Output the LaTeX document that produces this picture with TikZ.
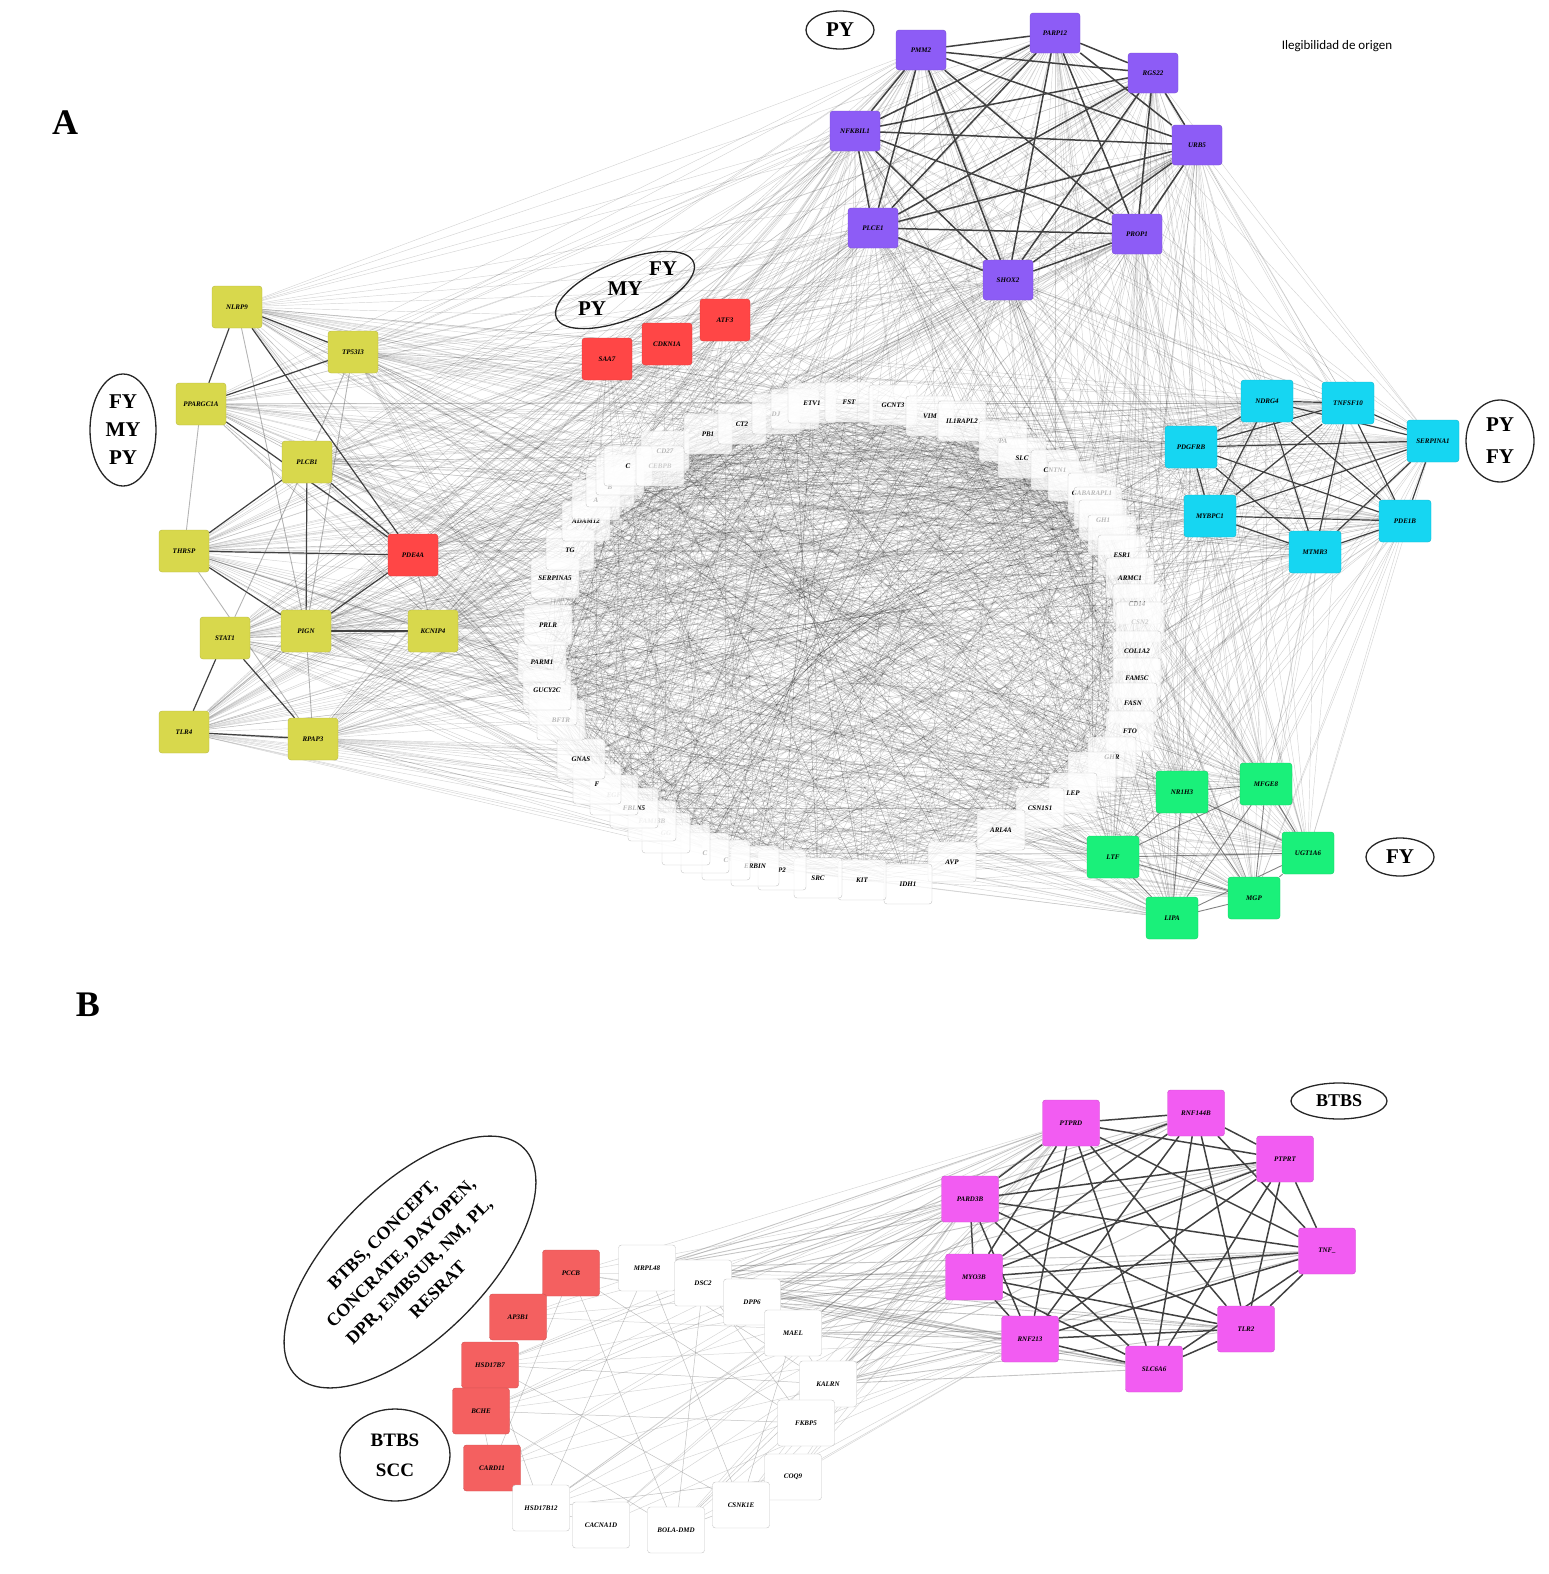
\documentclass[tikz,border=0pt]{standalone}
\usepackage{fontspec}
\setmainfont{Liberation Serif}
\newfontfamily\notefont{Carlito}
\usetikzlibrary{shapes.geometric}
\definecolor{pycolor}{RGB}{141,92,246}
\definecolor{ylcolor}{RGB}{216,216,76}
\definecolor{cycolor}{RGB}{22,214,242}
\definecolor{grcolor}{RGB}{26,240,122}
\definecolor{rdcolor}{RGB}{255,70,70}
\definecolor{rbcolor}{RGB}{244,96,96}
\definecolor{mgcolor}{RGB}{242,92,242}
\pgfdeclarelayer{edges}
\pgfsetlayers{edges,main}
\tikzset{%
    >=latex, % default tip
    gene/.style={rectangle,rounded corners=3pt,minimum width=50pt,
        minimum height=40pt,inner sep=1pt,
        font=\fontsize{7}{7}\selectfont\bfseries\itshape},%
    pygene/.style={gene,fill=pycolor,draw=pycolor!85!black},%
    ylgene/.style={gene,fill=ylcolor,draw=ylcolor!85!black,minimum height=42pt},%
    rdgene/.style={gene,fill=rdcolor,draw=rdcolor!85!black,minimum height=42pt},%
    cygene/.style={gene,fill=cycolor,draw=cycolor!85!black,minimum width=52pt,minimum height=42pt},%
    grgene/.style={gene,fill=grcolor,draw=grcolor!85!black,minimum width=52pt,minimum height=42pt},%
    ringgene/.style={gene,fill=white,fill opacity=0.72,text opacity=1,
        draw=gray!45,minimum width=48pt},%
    rbgene/.style={gene,fill=rbcolor,draw=rbcolor!85!black,minimum width=57pt,minimum height=46pt},%
    wbgene/.style={gene,fill=white,draw=gray!45,minimum width=57pt,minimum height=46pt},%
    mggene/.style={gene,fill=mgcolor,draw=mgcolor!85!black,minimum width=57pt,minimum height=46pt},%
    grouptag/.style={ellipse,draw=black!85,line width=1.3pt,inner sep=0pt,
        font=\fontsize{21}{22}\selectfont\bfseries,align=center},%
    strongedge/.style={draw=black!75,line width=1.5pt},%
    midedge/.style={draw=black!65,line width=0.9pt,opacity=0.75},%
    faintedge/.style={draw=black,line width=0.45pt,opacity=0.17},%
    bedge/.style={draw=gray!80,line width=0.5pt,opacity=0.6}%
}

\begin{document}
\begin{tikzpicture}[x=1pt,y=-1pt]
    \useasboundingbox (0,0) rectangle (1548,1574);

    % panel letters and note
    \node[font=\fontsize{36}{36}\selectfont\bfseries] (labA) at (65,123) {A};
    \node[font=\fontsize{36}{36}\selectfont\bfseries] (labB) at (88,1005) {B};
    \node[font=\notefont\fontsize{13}{15}\selectfont] (note) at (1337,46) {Ilegibilidad de origen};

    %%%%%%%% panel A
    % PY module
    \foreach \n/\x/\y/\t in {py1/921/50/PMM2, py2/1055/33/PARP12, py3/1153/73/RGS22,
        py4/1197/145/URB5, py5/1137/234/PROP1, py6/1008/280/SHOX2,
        py7/873/228/PLCE1, py8/855/131/NFKBIL1}
        \node[pygene] (\n) at (\x,\y) {\t};
    % FY MY PY module
    \foreach \n/\x/\y/\t in {yl1/237/307/NLRP9, yl2/353/352/TP53I3, yl3/201/404/PPARGC1A,
        yl4/307/462/PLCB1, yl5/184/551/THRSP, yl6/225/638/STAT1, yl7/306/631/PIGN,
        yl8/433/631/KCNIP4, yl9/184/732/TLR4, yl10/313/739/RPAP3}
        \node[ylgene] (\n) at (\x,\y) {\t};
    \foreach \n/\x/\y/\t in {rd1/413/555/PDE4A, rd2/607/359/SAA7, rd3/667/344/CDKN1A,
        rd4/725/320/ATF3}
        \node[rdgene] (\n) at (\x,\y) {\t};
    % PY FY module
    \foreach \n/\x/\y/\t in {cy1/1267/401/NDRG4, cy2/1348/403/TNFSF10, cy3/1433/441/SERPINA1,
        cy4/1191/447/PDGFRB, cy5/1210/516/MYBPC1, cy6/1315/552/MTMR3, cy7/1405/521/PDE1B}
        \node[cygene] (\n) at (\x,\y) {\t};
    % FY module
    \foreach \n/\x/\y/\t in {gr1/1182/792/NR1H3, gr2/1266/784/MFGE8, gr3/1113/857/LTF,
        gr4/1308/853/UGT1A6, gr5/1254/898/MGP, gr6/1172/918/LIPA}
        \node[grgene] (\n) at (\x,\y) {\t};

    % ring of unassigned genes
    \foreach \i/\x/\y/\t/\c in {1/665/451/CD27/black, 2/708/434/PB1/black,
        3/742/424/CT2/black, 4/776/414/DJ/black, 5/795/409/{}/gray,
        6/812/403/ETV1/black, 7/849/402/FST/black, 8/893/405/GCNT3/black,
        9/930/416/VIM/black, 10/962/421/IL1RAPL2/black, 11/1003/441/PA/black,
        12/1022/458/SLC/black, 13/1055/470/CNTN1/black, 14/1072/481/{}/gray,
        15/1092/493/GABARAPL1/black, 16/1098/507/{}/gray, 17/1103/520/GH1/black,
        18/1112/535/{}/gray, 19/1122/555/ESR1/black, 20/1130/578/ARMC1/black,
        21/1137/604/CD14/black, 22/1140/622/CSN2/gray!40, 23/1137/651/COL1A2/black,
        24/1137/678/FAM5C/black, 25/1133/703/FASN/black, 26/1130/731/FTO/black,
        27/1112/757/GHR/black, 28/1092/772/{}/gray, 29/1073/793/LEP/black,
        30/1040/808/CSN1S1/black, 31/1001/830/ARL4A/black, 32/952/862/AVP/black,
        33/908/884/IDH1/black, 34/862/880/KIT/black, 35/818/878/SRC/black,
        36/782/870/P2/black, 37/755/866/ERBIN/black, 38/726/860/C/black,
        39/705/853/C/black, 40/686/845/{}/gray, 41/666/833/GG/gray!40,
        42/652/821/FAM13B/gray!40, 43/634/808/FBLN5/black, 44/614/795/EGF/gray!50,
        45/597/784/F/black, 46/581/759/GNAS/black, 47/561/720/BFTR/black,
        48/553/705/{}/gray, 49/547/690/GUCY2C/black, 50/542/662/PARM1/black,
        51/548/625/PRLR/black, 52/555/578/SERPINA5/black, 53/570/550/TG/black,
        54/586/521/ADAM12/black, 55/596/500/A/black, 56/610/487/B/black,
        57/620/475/{}/gray, 58/628/466/C/black, 59/660/466/CEBPB/gray!40}
        \node[ringgene,text=\c] (r\i) at (\x,\y) {\t};

    % group tags
    \node[grouptag,minimum width=68pt,minimum height=38pt] (tagpy) at (840,30) {PY};
    \node[grouptag,minimum width=68pt,minimum height=82pt] (tagpf) at (1500,441) {PY\\[10pt]FY};
    \node[grouptag,minimum width=68pt,minimum height=38pt] (tagfy) at (1400,857) {FY};
    \node[grouptag,minimum width=66pt,minimum height=112pt] (tagfmp) at (123,430) {FY\\[6pt]MY\\[6pt]PY};
    \node[grouptag,minimum width=148pt,minimum height=58pt,rotate=22] (tagpmf) at (625,290) {};
    \node[font=\fontsize{21}{22}\selectfont\bfseries] (tpy) at (592,309) {PY};
    \node[font=\fontsize{21}{22}\selectfont\bfseries] (tmy) at (625,289) {MY};
    \node[font=\fontsize{21}{22}\selectfont\bfseries] (tfy) at (663,269) {FY};

    %%%%%%%% panel B
    \foreach \n/\x/\y/\t in {b1/571/1273/PCCB, b2/518/1317/AP3B1, b3/490/1365/HSD17B7,
        b4/481/1411/BCHE, b5/492/1468/CARD11}
        \node[rbgene] (\n) at (\x,\y) {\t};
    \foreach \n/\x/\y/\t in {w1/647/1268/MRPL48, w2/703/1283/DSC2, w3/752/1302/DPP6,
        w4/793/1333/MAEL, w5/828/1384/KALRN, w6/806/1423/FKBP5, w7/793/1477/COQ9,
        w8/741/1505/CSNK1E, w9/676/1530/BOLA-DMD, w10/601/1525/CACNA1D,
        w11/541/1508/HSD17B12}
        \node[wbgene] (\n) at (\x,\y) {\t};
    \foreach \n/\x/\y/\t in {m1/1071/1123/PTPRD, m2/1196/1113/RNF144B, m3/1285/1159/PTPRT,
        m4/1327/1251/TNF\_, m5/1246/1329/TLR2, m6/1154/1369/SLC6A6,
        m7/1030/1339/RNF213, m8/974/1277/MYO3B, m9/970/1199/PARD3B}
        \node[mggene] (\n) at (\x,\y) {\t};

    \node[grouptag,minimum width=96pt,minimum height=36pt,
        font=\fontsize{18}{18}\selectfont\bfseries] (tagbt) at (1339,1101) {BTBS};
    \node[grouptag,minimum width=110pt,minimum height=92pt,
        font=\fontsize{19}{20}\selectfont\bfseries] (tagbs) at (395,1455) {BTBS\\[10pt]SCC};
    \node[grouptag,minimum width=322pt,minimum height=152pt,rotate=45,
        font=\fontsize{18}{26}\selectfont\bfseries] (tagall) at (410,1262)
        {BTBS, CONCEPT,\\CONCRATE, DAYOPEN,\\DPR, EMBSUR, NM, PL,\\RESRAT};

    %%%%%%%% connectors
    \begin{pgfonlayer}{edges}
        % ring chords
        \foreach \i in {1,...,59}{
            \foreach \k in {2,4,7,10,13,17,21,25,29}{
                \pgfmathtruncatemacro\j{mod(\i+\k-1,59)+1}
                \draw[faintedge] (r\i) -- (r\j);
            }
        }
        % the upper half of the ring is denser
        \foreach \i in {1,...,20}{
            \foreach \k in {5,9,14,19,23,27}{
                \pgfmathtruncatemacro\j{mod(\i+\k+20,59)+1}
                \draw[faintedge] (r\i) -- (r\j);
            }
        }
        % modules to ring
        \foreach \a [count=\n] in {py1,py2,py3,py4,py5,py6,py7,py8,yl1,yl2,yl3,yl4,
            yl5,yl6,yl7,yl8,yl9,yl10,rd1,rd2,rd3,rd4,cy1,cy2,cy3,cy4,cy5,cy6,cy7,
            gr1,gr2,gr3,gr4,gr5,gr6}{
            \foreach \i in {1,...,59}{
                \pgfmathtruncatemacro\m{mod(\i+\n,3)}
                \ifnum\m=0 \draw[faintedge] (\a) -- (r\i);\fi
            }
        }
        % modules to modules
        \foreach \i in {1,...,8}{
            \foreach \j in {1,...,10}{\draw[faintedge] (py\i) -- (yl\j);}
            \foreach \j in {1,...,7}{\draw[faintedge] (py\i) -- (cy\j);}
            \foreach \j in {1,...,6}{\draw[faintedge] (py\i) -- (gr\j);}
            \foreach \j in {1,...,4}{\draw[faintedge] (py\i) -- (rd\j);}
        }
        \foreach \i in {1,...,10}{
            \foreach \j in {1,...,7}{\draw[faintedge] (yl\i) -- (cy\j);}
            \foreach \j in {1,...,6}{\draw[faintedge] (yl\i) -- (gr\j);}
            \foreach \j in {2,...,4}{\draw[faintedge] (yl\i) -- (rd\j);}
        }
        \foreach \i in {1,...,6}{
            \foreach \j in {1,...,7}{\draw[faintedge] (gr\i) -- (cy\j);}
        }
        % PY module
        \foreach \i in {1,...,8}{
            \foreach \j in {1,...,8}{\ifnum\i<\j \draw[strongedge] (py\i) -- (py\j);\fi}
        }
        % PY FY module
        \foreach \i in {1,...,7}{
            \foreach \j in {1,...,7}{\ifnum\i<\j \draw[strongedge,line width=1.2pt] (cy\i) -- (cy\j);\fi}
        }
        % FY module
        \foreach \i in {1,...,6}{
            \foreach \j in {1,...,6}{\ifnum\i<\j \draw[midedge] (gr\i) -- (gr\j);\fi}
        }
        % FY MY PY module
        \foreach \a/\b in {yl1/yl2,yl1/yl3,yl2/yl3,yl3/rd1,yl4/yl5,yl4/yl7,yl4/rd1,
            yl5/rd1,yl5/yl7,yl7/rd1,yl7/yl8,yl6/yl9,yl6/yl10,yl9/yl10,yl1/rd1}
            \draw[strongedge,line width=1.2pt] (\a) -- (\b);
        \foreach \a/\b in {yl5/yl8,yl8/rd1,yl2/yl4,yl2/yl7,yl4/yl6,yl5/yl10,
            yl6/yl8,yl3/yl5,yl1/yl7,yl7/yl9,yl7/yl10}
            \draw[midedge,opacity=0.45] (\a) -- (\b);

        % panel B
        \foreach \i in {1,...,9}{
            \foreach \j in {1,...,9}{\ifnum\i<\j \draw[strongedge] (m\i) -- (m\j);\fi}
        }
        \foreach \a in {w1,w2,w3,w4,w5}{
            \foreach \i in {1,...,9}{\draw[midedge,opacity=0.35] (\a) -- (m\i);}
        }
        \foreach \a in {b1,b2,b3,b4,b5,w6,w7,w8,w9,w10,w11}{
            \foreach \i in {1,7,8,9}{\draw[bedge,opacity=0.4] (\a) -- (m\i);}
        }
        \foreach \a [count=\p] in {b1,b2,b3,b4,b5,w1,w2,w3,w4,w5,w6,w7,w8,w9,w10,w11}{
            \foreach \b [count=\q] in {b1,b2,b3,b4,b5,w1,w2,w3,w4,w5,w6,w7,w8,w9,w10,w11}{
                \pgfmathtruncatemacro\m{mod(\p*\q+\q,3)}
                \ifnum\p<\q \ifnum\m=1 \draw[bedge] (\a) -- (\b);\fi\fi
            }
        }
    \end{pgfonlayer}
\end{tikzpicture}
\end{document}
